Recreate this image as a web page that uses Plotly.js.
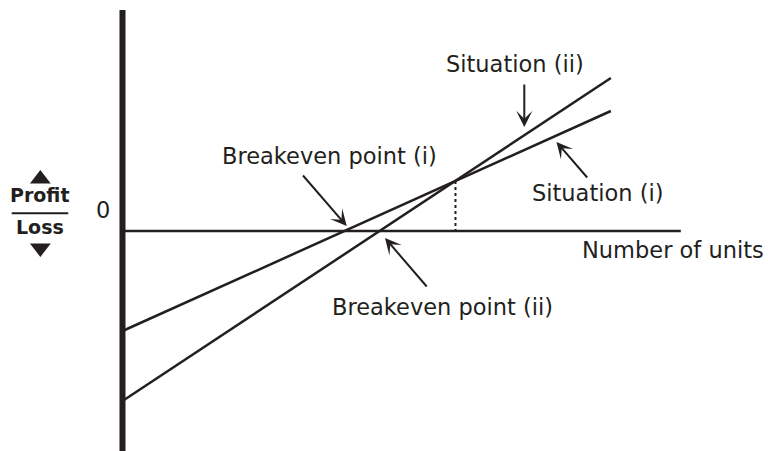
<!DOCTYPE html>
<html>
<head>
<meta charset="utf-8">
<script src="https://cdn.plot.ly/plotly-3.0.1.min.js"></script>
<style>
  html, body { margin: 0; padding: 0; background: #fff; }
  #graph { width: 768px; height: 451px; }
</style>
</head>
<body>
<div id="graph"></div>
<script>
// units sold vs profit (arbitrary units)
var units = [0, 88];
var profitI = [-100, 120];   // Situation (i)
var profitII = [-170, 153];  // Situation (ii)

// where the two lines meet, dropped onto the axis
var meetUnits = [60, 60];
var meetProfit = [50, 0];

// axis extents
var axisUnitsMax = 100.6;
var axisProfitTop = 221;
var axisProfitBottom = -220;

// arrow tips (units, profit) and tail offsets (px)
var arrowUnits = [40.4, 47.3, 72.4, 78.2];
var arrowProfit = [5, -7, 104, 89];
var arrowDx = [-45, 43, 0, 32];
var arrowDy = [-52, 50, -44, 37];

// labels
var labelText = ['Breakeven point (i)', 'Breakeven point (ii)', 'Situation (ii)', 'Situation (i)', 'Number of units', '0'];
var labelUnits = [37.3, 57.6, 70.8, 85.6, 99.2, -3.6];
var labelProfit = [75, -76, 167, 38, -19, 21];

var ink = '#231f20';
var font = {family: 'DejaVu Sans, sans-serif', size: 22.5, color: ink};
var boldFont = {family: 'DejaVu Sans, sans-serif', size: 19, color: ink};

var traces = [
  {x: units, y: profitI, mode: 'lines', line: {color: ink, width: 2.5}, hoverinfo: 'skip'},
  {x: units, y: profitII, mode: 'lines', line: {color: ink, width: 2.5}, hoverinfo: 'skip'},
  {x: meetUnits, y: meetProfit, mode: 'lines', line: {color: ink, width: 2, dash: 'dot'}, hoverinfo: 'skip'},
  // profit / loss direction triangles
  {x: [-14.8], y: [52], mode: 'markers', marker: {symbol: 'triangle-up', size: 18, color: ink}, hoverinfo: 'skip'},
  {x: [-14.8], y: [-17], mode: 'markers', marker: {symbol: 'triangle-down', size: 18, color: ink}, hoverinfo: 'skip'}
];

var annotations = [];
arrowUnits.forEach(function(u, i) {
  annotations.push({
    x: u, y: arrowProfit[i], ax: arrowDx[i], ay: arrowDy[i],
    text: '', showarrow: true, arrowhead: 3, arrowsize: 1.35, arrowwidth: 2,
    arrowcolor: ink, standoff: 0, startstandoff: 0
  });
});
labelText.forEach(function(t, i) {
  annotations.push({
    x: labelUnits[i], y: labelProfit[i], text: t, showarrow: false,
    xanchor: 'center', yanchor: 'middle', font: font
  });
});
annotations.push({x: -14.8, y: 36, text: '<b>Profit</b>', showarrow: false,
  xanchor: 'center', yanchor: 'middle', font: boldFont});
annotations.push({x: -14.8, y: 4, text: '<b>Loss</b>', showarrow: false,
  xanchor: 'center', yanchor: 'middle', font: boldFont});

var shapes = [
  {type: 'line', x0: 0, x1: 0, y0: axisProfitBottom, y1: axisProfitTop, line: {color: ink, width: 6}},
  {type: 'line', x0: 0, x1: axisUnitsMax, y0: 0, y1: 0, line: {color: ink, width: 2.5}},
  {type: 'line', x0: -19.96, x1: -9.77, y0: 17.7, y1: 17.7, line: {color: ink, width: 2}}
];

var layout = {
  width: 768,
  height: 451,
  margin: {l: 0, r: 0, t: 0, b: 0},
  paper_bgcolor: '#fff',
  plot_bgcolor: '#fff',
  showlegend: false,
  xaxis: {range: [-22.07, 116.31], visible: false, fixedrange: true},
  yaxis: {range: [-220, 231], visible: false, fixedrange: true},
  annotations: annotations,
  shapes: shapes
};

Plotly.newPlot('graph', traces, layout, {staticPlot: true, displayModeBar: false});
</script>
</body>
</html>
